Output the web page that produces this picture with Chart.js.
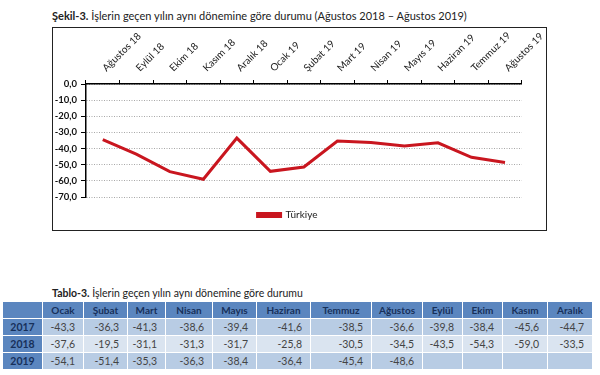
<!DOCTYPE html>
<html>
<head>
<meta charset="utf-8">
<script src="https://cdn.jsdelivr.net/npm/chart.js@4"></script>
<style>
  html, body { margin:0; padding:0; background:#fff; }
  body { width:600px; height:375px; position:relative; overflow:hidden; font-family: Lato, "Liberation Sans", sans-serif; }
  #title { position:absolute; left:52px; top:9px; font-size:11px; color:#222; white-space:nowrap; }
  #box { position:absolute; left:52px; top:27px; width:493px; height:202px; border:1.5px solid #222; }
  #wrap { position:absolute; left:52px; top:27px; width:495px; height:203px; }
  #ttitle { position:absolute; left:52px; top:287px; font-size:10.5px; color:#222; white-space:nowrap; }
  .cell { position:absolute; box-sizing:border-box; font-size:10.5px; line-height:16px; height:16px; white-space:nowrap; }
  .hdr { background:#5b86bf; color:#17305a; font-weight:bold; text-align:center; font-size:10px; }
  .lbl { background:#5b86bf; color:#17305a; font-weight:bold; text-align:center; font-size:10.5px; }
  .val { color:#444; text-align:right; padding-right:8px; }
</style>
</head>
<body>
<div id="title"><b>Şekil-3.</b> İşlerin geçen yılın aynı dönemine göre durumu (Ağustos 2018 – Ağustos 2019)</div>
<div id="box"></div>
<div id="wrap"><canvas id="c" width="495" height="203"></canvas></div>
<div id="ttitle"><b>Tablo-3.</b> İşlerin geçen yılın aynı dönemine göre durumu</div>
<div id="table"></div>
<script>
// ---- chart data ----
const categories = ['Ağustos 18','Eylül 18','Ekim 18','Kasım 18','Aralık 18','Ocak 19','Şubat 19','Mart 19','Nisan 19','Mayıs 19','Haziran 19','Temmuz 19','Ağustos 19'];
const turkiye = [-34.5, -43.5, -54.3, -59.0, -33.5, -54.1, -51.4, -35.3, -36.3, -38.4, -36.4, -45.4, -48.6];
const yTicks = [0, -10, -20, -30, -40, -50, -60, -70];
const seriesName = 'Türkiye';

// ---- table data ----
const tableMonths = ['Ocak','Şubat','Mart','Nisan','Mayıs','Haziran','Temmuz','Ağustos','Eylül','Ekim','Kasım','Aralık'];
const tableYears = ['2017','2018','2019'];
const values2017 = [-43.3, -36.3, -41.3, -38.6, -39.4, -41.6, -38.5, -36.6, -39.8, -38.4, -45.6, -44.7];
const values2018 = [-37.6, -19.5, -31.1, -31.3, -31.7, -25.8, -30.5, -34.5, -43.5, -54.3, -59.0, -33.5];
const values2019 = [-54.1, -51.4, -35.3, -36.3, -38.4, -36.4, -45.4, -48.6, null, null, null, null];

const fmt = v => v.toFixed(1).replace('.', ',');

// table layout
const colWidths = [40, 41, 44, 38, 47, 44, 54, 61, 51, 40, 40, 45, 45];
const rowTops = [302, 319, 336, 353];
const rowBgs = ['#b8cce4', '#dae4f0', '#b8cce4'];
const tbl = document.getElementById('table');
function addCell(x, y, w, cls, text, bg) {
  const d = document.createElement('div');
  d.className = 'cell ' + cls;
  d.style.left = x + 'px'; d.style.top = y + 'px'; d.style.width = (w - 1) + 'px';
  if (bg) d.style.background = bg;
  d.textContent = text;
  tbl.appendChild(d);
}
let x = 3;
addCell(x, rowTops[0], colWidths[0], 'hdr', '');
x += colWidths[0];
tableMonths.forEach((m, i) => { addCell(x, rowTops[0], colWidths[i+1], 'hdr', m); x += colWidths[i+1]; });
[values2017, values2018, values2019].forEach((vals, r) => {
  let xx = 3;
  addCell(xx, rowTops[r+1], colWidths[0], 'lbl', tableYears[r]);
  xx += colWidths[0];
  vals.forEach((v, i) => {
    addCell(xx, rowTops[r+1], colWidths[i+1], 'val', v === null ? '' : fmt(v), rowBgs[r]);
    xx += colWidths[i+1];
  });
});

// chart
const red = '#c9161f';
new Chart(document.getElementById('c'), {
  type: 'line',
  data: {
    labels: categories,
    datasets: [{
      label: seriesName,
      data: turkiye,
      borderColor: red,
      backgroundColor: red,
      borderWidth: 3,
      pointRadius: 0,
      tension: 0
    }]
  },
  options: {
    responsive: false,
    animation: false,
    devicePixelRatio: 1,
    layout: { padding: { left: 0, right: 24, top: 0, bottom: 0 } },
    plugins: {
      legend: {
        position: 'bottom',
        labels: { boxWidth: 23, boxHeight: 3, padding: 13, color: '#222', font: { family: 'Lato', size: 10 } }
      },
      tooltip: { enabled: false }
    },
    scales: {
      x: {
        position: 'top',
        offset: true,
        grid: { offset: true, drawOnChartArea: false, drawTicks: true, tickLength: 4, color: '#000', lineWidth: 1 },
        border: { display: true, color: '#000', width: 1.5 },
        ticks: { autoSkip: false, minRotation: 45, maxRotation: 45, padding: 6, labelOffset: 10, color: '#222', font: { family: 'Lato', size: 10 } },
        afterFit: s => { s.height = 57; }
      },
      y: {
        min: -70, max: 0,
        afterBuildTicks: s => { s.ticks = yTicks.map(v => ({ value: v })); },
        grid: { color: '#a8a8a8', lineWidth: 1, tickColor: '#000', tickLength: 5, drawTicks: true },
        border: { display: true, color: '#000', width: 1.5, dash: [1, 1.5] },
        ticks: { padding: 4, color: '#111', font: { family: 'Lato', size: 9.5, weight: 'bold' }, callback: v => fmt(v) },
        afterFit: s => { s.width = 34; }
      }
    }
  }
});
</script>
</body>
</html>
